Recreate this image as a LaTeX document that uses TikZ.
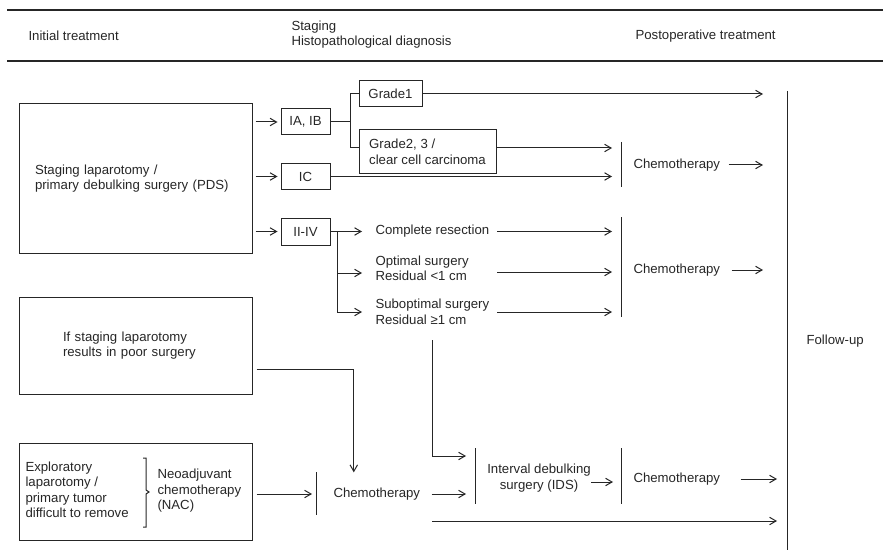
\documentclass[tikz,border=0pt]{standalone}
\usepackage{fontspec}
\setmainfont{Liberation Sans}
\usetikzlibrary{arrows.meta}

\begin{document}
\begin{tikzpicture}[x=1pt,y=-1pt,line width=1pt,color=black!85,
	font=\fontsize{13.2}{15.5}\selectfont,
	txt/.style={inner sep=0pt,align=left,anchor=west},
	box/.style={draw,inner sep=0pt,align=left},
	sbox/.style={box,minimum width=49pt,minimum height=26pt},
	arr/.style={-{Straight Barb[length=6.5pt,width=7.5pt]}}]
	\useasboundingbox (0,0) rectangle (883,556);

	% Header
	\draw[line width=2pt] (7,10) -- (883,10);
	\draw[line width=2pt] (7,61) -- (883,61);
	\node[txt] (hini) at (28,36) {Initial treatment};
	\node[txt] (hsta) at (291,34.5) {Staging\\Histopathological diagnosis};
	\node[txt] (hpos) at (635,36) {Postoperative treatment};

	% Initial treatment
	\node[box,minimum height=149pt,text width=201pt,inner xsep=16pt] (pds) at (135.5,178.5)
		{Staging laparotomy /\\primary debulking surgery (PDS)};
	\node[box,minimum height=97pt,text width=145pt,inner xsep=44pt] (poor) at (135.5,345.5)
		{If staging laparotomy\\results in poor surgery};
	\node[box,minimum width=233pt,minimum height=97pt] (nac) at (135.5,491.5) {};
	\node[txt] (expl) at (25,490) {Exploratory\\laparotomy /\\primary tumor\\difficult to remove};
	\node[txt] (neo) at (157,491) {Neoadjuvant\\chemotherapy\\(NAC)};
	\draw (143,458) -- (146,458) -- (146,490) -- (149,492) -- (146,494) -- (146,527) -- (143,527);

	% Staging
	\node[sbox] (iaib) at (305.5,122) {IA, IB};
	\node[sbox] (ic) at (305.5,176.5) {IC};
	\node[sbox,minimum height=27pt] (twofour) at (305.5,231.5) {II-IV};
	\node[box,minimum width=63pt,minimum height=26pt] (g1) at (390.5,94) {Grade1};
	\node[box,minimum width=137pt,minimum height=44pt] (g2) at (427.5,152) {Grade2, 3 /\\clear cell carcinoma};
	\node[txt] (comp) at (375,231.5) {Complete resection};
	\node[txt] (opt) at (375,268.5) {Optimal surgery\\Residual <1 cm};
	\node[txt] (sub) at (375,312) {Suboptimal surgery\\Residual ≥1 cm};

	% Postoperative treatment
	\node[txt] (cha) at (633,165) {Chemotherapy};
	\node[txt] (chb) at (633,270) {Chemotherapy};
	\node[txt] (chn) at (333,494) {Chemotherapy};
	\node[align=center,inner sep=0pt] (ids) at (539,478) {Interval debulking\\surgery (IDS)};
	\node[txt] (chc) at (633,479) {Chemotherapy};
	\node[txt] (fu) at (806,341) {Follow-up};

	% Bars
	\draw (621,142) coordinate (bara) -- (621,187);
	\draw (621,217) coordinate (barb) -- (621,317);
	\draw (316,472) coordinate (bare) -- (316,515);
	\draw (475,448) coordinate (barc) -- (475,504);
	\draw (621,448) coordinate (bard) -- (621,504);
	\draw (787,91) coordinate (fut) -- (787,550);

	% Arrow columns
	\coordinate (ina) at (612,0);
	\coordinate (inb) at (763,0);
	\coordinate (inc) at (777,0);
	\coordinate (outa) at (497,0);
	\coordinate (g2in) at ([yshift=4pt]g2.west);
	\coordinate (g2out) at ([yshift=4pt]g2.east);
	\coordinate (optr) at ([yshift=-3.5pt]opt.east);
	\coordinate (poorout) at ([yshift=-23.5pt]poor.east);
	\coordinate (idso) at ([yshift=-4pt]ids.east);
	\coordinate (sdn) at (432,340);
	\coordinate (bot) at (432,521);

	% PDS to stages
	\draw[arr,shorten <=3pt,shorten >=3pt] (iaib.west -| pds.east) -- (iaib.west);
	\draw[arr,shorten <=3pt,shorten >=3pt] (ic.west -| pds.east) -- (ic.west);
	\draw[arr,shorten <=3pt,shorten >=3pt] (twofour.west -| pds.east) -- (twofour.west);

	% IA, IB and IC
	\draw (iaib.east) -- ++(20,0) coordinate (fka);
	\draw (g1.west) -| (fka) |- (g2in);
	\draw[arr] (g1.east) -- (g1.east -| inb);
	\draw[arr] (g2out) -- (g2out -| ina);
	\draw[arr] (ic.east) -- (ic.east -| ina);
	\draw[arr,shorten <=8pt] (cha.east) -- (cha.east -| inb);

	% II-IV
	\draw (twofour.east) -- ++(7,0) coordinate (fkb);
	\draw[arr,shorten >=13pt] (fkb) -- (comp.west);
	\draw[arr,shorten >=13pt] (fkb) |- ([yshift=-4.5pt]opt.west);
	\draw[arr,shorten >=13pt] (fkb) |- (sub.west);
	\draw[arr] (comp.east -| outa) -- (comp.east -| ina);
	\draw[arr] (optr -| outa) -- (optr -| ina);
	\draw[arr] (sub.east -| outa) -- (sub.east -| ina);
	\draw[arr,shorten <=11pt] (chb.east) -- (chb.east -| inb);

	% Poor surgery, NAC and IDS
	\draw[arr,shorten <=4pt,shorten >=15pt] (poorout) -| ([xshift=-23pt]chn.north);
	\draw[arr,shorten <=4pt,shorten >=4pt] (nac.east |- chn.west) -- (chn.west -| bare);
	\draw[arr,shorten >=9pt] (sdn) |- ([yshift=-8pt]barc);
	\draw[arr,shorten <=11pt,shorten >=9pt] (chn.east) -- (chn.east -| barc);
	\draw[arr,shorten >=8pt] (idso) -- (idso -| bard);
	\draw[arr,shorten <=20pt] (chc.east) -- (chc.east -| inc);
	\draw[arr] (bot) -- (bot -| inc);

\end{tikzpicture}
\end{document}
